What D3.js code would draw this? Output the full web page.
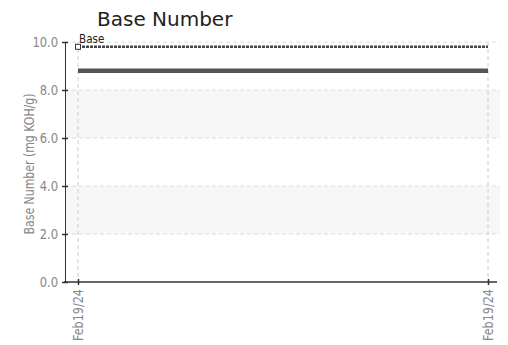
<!DOCTYPE html>
<html>
<head>
<meta charset="utf-8">
<script src="https://cdn.jsdelivr.net/npm/d3@7"></script>
<style>
  body { margin: 0; background: #fff; }
  .narrow { font-family: "DejaVu Sans", sans-serif; }
</style>
</head>
<body>
<svg id="chart"></svg>
<script>
// data
var sampleLabels = ["Feb19/24", "Feb19/24"]
var sampleIndex = [0, 1]
var baseNumber = [8.8, 8.8]
var baseLimit = 9.8
var yTicks = [0, 2, 4, 6, 8, 10]
var shadedBands = [[6, 8], [2, 4]]

var dimensions = {
  width: 508,
  height: 345,
  margin: { top: 42, bottom: 63, right: 8, left: 65 }
}
dimensions.boundedWidth = dimensions.width - dimensions.margin.left - dimensions.margin.right
dimensions.boundedHeight = dimensions.height - dimensions.margin.top - dimensions.margin.bottom

// squeeze text horizontally to mimic a condensed face
function condense(sel, factor) {
  sel.each(function() {
    var w = this.getComputedTextLength()
    d3.select(this)
      .attr("textLength", w * factor)
      .attr("lengthAdjust", "spacingAndGlyphs")
  })
}

var svg = d3.select("#chart")
  .attr("width", dimensions.width)
  .attr("height", dimensions.height)

var bounds = svg.append("g")
  .attr("transform", "translate(" + dimensions.margin.left + "," + dimensions.margin.top + ")")

var xScale = d3.scaleLinear()
  .domain([0, 1])
  .range([13, dimensions.boundedWidth - 12])

var yScale = d3.scaleLinear()
  .domain([0, 10])
  .range([dimensions.boundedHeight, 0])

// shaded bands
bounds.selectAll(".band")
  .data(shadedBands)
  .enter()
  .append("rect")
  .attr("x", 0)
  .attr("width", dimensions.boundedWidth)
  .attr("y", d => yScale(d[1]))
  .attr("height", d => yScale(d[0]) - yScale(d[1]))
  .attr("fill", "#f7f7f7")

// horizontal grid
bounds.selectAll(".hgrid")
  .data(yTicks.filter(d => d > 0))
  .enter()
  .append("line")
  .attr("x1", 0)
  .attr("x2", dimensions.boundedWidth)
  .attr("y1", d => yScale(d))
  .attr("y2", d => yScale(d))
  .attr("stroke", "#ddd")
  .attr("stroke-dasharray", "4,3")

// vertical grid
bounds.selectAll(".vgrid")
  .data(sampleIndex)
  .enter()
  .append("line")
  .attr("x1", d => xScale(d))
  .attr("x2", d => xScale(d))
  .attr("y1", yScale(10))
  .attr("y2", yScale(0))
  .attr("stroke", "#ccc")
  .attr("stroke-dasharray", "4,3")

// base limit line
bounds.append("line")
  .attr("x1", xScale(0))
  .attr("x2", xScale(1))
  .attr("y1", yScale(baseLimit))
  .attr("y2", yScale(baseLimit))
  .attr("stroke", "#444")
  .attr("stroke-width", 2.5)
  .attr("stroke-dasharray", "3,1")

bounds.append("rect")
  .attr("x", xScale(0) - 2.5)
  .attr("y", yScale(baseLimit) - 2.5)
  .attr("width", 5)
  .attr("height", 5)
  .attr("fill", "#fff")
  .attr("stroke", "#333")
  .attr("stroke-width", 1)

bounds.append("text")
  .attr("class", "narrow")
  .attr("x", xScale(0) + 1)
  .attr("y", yScale(baseLimit) - 4)
  .style("font-size", "13px")
  .attr("fill", "#222")
  .text("Base")
  .call(condense, 0.8)

// data line
var line = d3.line()
  .x((d, i) => xScale(sampleIndex[i]))
  .y(d => yScale(d))

bounds.append("path")
  .datum(baseNumber)
  .attr("fill", "none")
  .attr("stroke", "#555")
  .attr("stroke-width", 4.5)
  .attr("d", line)

// axes
var yAxis = d3.axisLeft(yScale)
  .tickValues(yTicks)
  .tickFormat(d3.format(".1f"))
  .tickSize(3)
  .tickSizeOuter(0)

var yAxisG = bounds.append("g").call(yAxis)
yAxisG.select(".domain").attr("stroke", "#333")
yAxisG.selectAll(".tick line").attr("x2", 3).attr("x1", -3).attr("stroke", "#333").attr("stroke-width", 1.5)
yAxisG.selectAll("text")
  .attr("class", "narrow")
  .attr("x", -7)
  .style("font-size", "14px")
  .attr("fill", "#888")
  .call(condense, 0.82)

var xAxis = d3.axisBottom(xScale)
  .tickValues(sampleIndex)
  .tickFormat(d => sampleLabels[d])
  .tickSize(3)
  .tickSizeOuter(0)

var xAxisG = bounds.append("g")
  .attr("transform", "translate(0," + dimensions.boundedHeight + ")")
  .call(xAxis)
xAxisG.select(".domain").attr("d", "M-1,0H" + (dimensions.boundedWidth - 3)).attr("stroke", "#333").attr("stroke-width", 1.5)
xAxisG.selectAll(".tick line").attr("y1", -3).attr("y2", 3).attr("stroke", "#333").attr("stroke-width", 1.5)
xAxisG.selectAll("text")
  .attr("class", "narrow")
  .style("font-size", "14px")
  .attr("fill", "#888")
  .style("text-anchor", "end")
  .attr("x", -7)
  .attr("y", 0)
  .attr("dy", "0.35em")
  .attr("transform", "rotate(-90)")
  .call(condense, 0.8)

// y axis title
svg.append("text")
  .attr("class", "narrow")
  .attr("transform", "translate(34," + (dimensions.margin.top + dimensions.boundedHeight / 2 + 2) + ") rotate(-90)")
  .style("text-anchor", "middle")
  .style("font-size", "14px")
  .attr("fill", "#888")
  .text("Base Number (mg KOH/g)")
  .call(condense, 0.78)

// chart title
svg.append("text")
  .attr("x", 97)
  .attr("y", 26)
  .style("font-family", "'DejaVu Sans', sans-serif")
  .style("font-size", "20px")
  .attr("fill", "#222")
  .text("Base Number")
</script>
</body>
</html>
